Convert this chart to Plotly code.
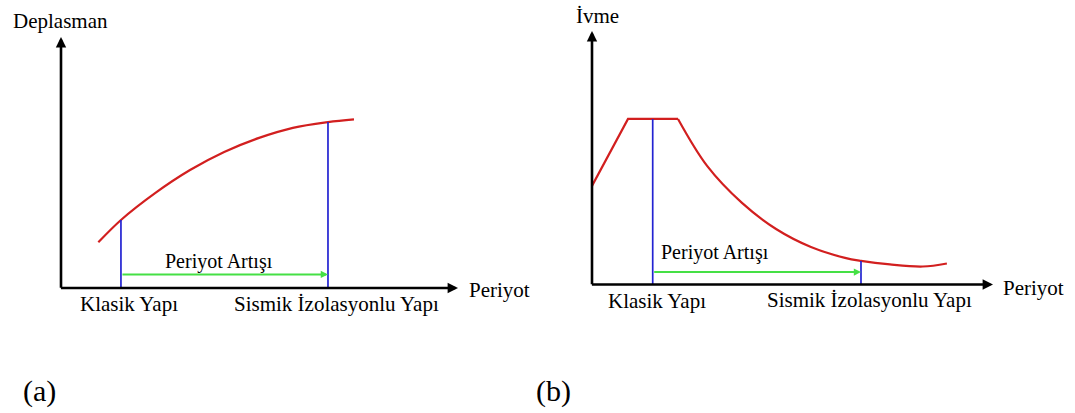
import numpy as np
import plotly.graph_objects as go

# ---------------- data (arbitrary units 0-100) ----------------
# Panel (a): displacement vs period
disp_period = [9.4, 15.1, 23.7, 32.5, 41.1, 49.9, 58.4, 67.25, 73.8]
disp_value = [18.2, 27.1, 37.8, 47.0, 54.2, 59.8, 63.8, 66.1, 67.2]

# Panel (b): acceleration vs period (ramp + plateau, then decay)
acc_ramp_period = [0.0, 8.98, 21.45]
acc_ramp_value = [38.9, 65.3, 65.3]
acc_decay_period = [21.45, 28.7, 37.4, 45.9, 54.6, 63.1, 67.1, 74.3, 82.5, 88.5]
acc_decay_value = [65.3, 46.8, 32.2, 21.9, 14.8, 10.5, 9.3, 7.9, 7.1, 8.3]

# structure periods (classic / isolated) for each panel
periods_a = [15.1, 67.25]
periods_b = [15.14, 67.08]
arrow_level_a = 5.4
arrow_level_b = 4.9

structure_labels = ["Klasik Yapı", "Sismik İzolasyonlu Yapı"]
y_titles = ["Deplasman", "İvme"]
x_title = "Periyot"
shift_label = "Periyot Artışı"
panel_labels = ["(a)", "(b)"]

# ---------------- styling ----------------
W, H = 1075, 413
RED = "#d21f1f"
BLUE = "#2323d2"
GREEN = "#45e045"
FONT = "Liberation Serif"


def px(x):
    return x / W


def py(y):
    return 1 - y / H


fig = go.Figure()

# red curves
fig.add_trace(go.Scatter(x=disp_period, y=disp_value, mode="lines", line=dict(color=RED, width=2.2, shape="spline"),
                         xaxis="x", yaxis="y", hoverinfo="skip"))
fig.add_trace(go.Scatter(x=acc_ramp_period, y=acc_ramp_value, mode="lines", line=dict(color=RED, width=2.2),
                         xaxis="x2", yaxis="y2", hoverinfo="skip"))
fig.add_trace(go.Scatter(x=acc_decay_period, y=acc_decay_value, mode="lines",
                         line=dict(color=RED, width=2.2, shape="spline"),
                         xaxis="x2", yaxis="y2", hoverinfo="skip"))

# blue vertical lines from the axis to the curve
for p in periods_a:
    top = float(np.interp(p, disp_period, disp_value))
    fig.add_trace(go.Scatter(x=[p, p], y=[0, top], mode="lines", line=dict(color=BLUE, width=1.7),
                             xaxis="x", yaxis="y", hoverinfo="skip"))
acc_all_p = acc_ramp_period + acc_decay_period[1:]
acc_all_v = acc_ramp_value + acc_decay_value[1:]
for p in periods_b:
    top = float(np.interp(p, acc_all_p, acc_all_v))
    fig.add_trace(go.Scatter(x=[p, p], y=[0, top], mode="lines", line=dict(color=BLUE, width=1.7),
                             xaxis="x2", yaxis="y2", hoverinfo="skip"))

annotations = []
# axes drawn as arrows
for xa, ya in (("x", "y"), ("x2", "y2")):
    annotations.append(dict(x=100, y=0, ax=-0.4, ay=0, xref=xa, yref=ya, axref=xa, ayref=ya, text="",
                            showarrow=True, arrowhead=2, arrowwidth=2.6, arrowsize=0.8, arrowcolor="black"))
    annotations.append(dict(x=0, y=100, ax=0, ay=-0.5, xref=xa, yref=ya, axref=xa, ayref=ya, text="",
                            showarrow=True, arrowhead=2, arrowwidth=2.6, arrowsize=0.8, arrowcolor="black"))

# green period-shift arrows
for xa, ya, per, lvl in (("x", "y", periods_a, arrow_level_a), ("x2", "y2", periods_b, arrow_level_b)):
    annotations.append(dict(x=per[1], y=lvl, ax=per[0], ay=lvl, xref=xa, yref=ya, axref=xa, ayref=ya, text="",
                            showarrow=True, arrowhead=2, arrowwidth=2.0, arrowsize=0.72, arrowcolor=GREEN))

f21 = dict(family=FONT, size=21, color="black")
f20 = dict(family=FONT, size=20, color="black")


def txt(s, x, y, font, xanchor="center"):
    annotations.append(dict(text=s, x=px(x), y=py(y), xref="paper", yref="paper", showarrow=False,
                            xanchor=xanchor, yanchor="middle", font=font))


# panel (a) texts
txt(y_titles[0], 11, 21, f21, "left")
txt(x_title, 467, 290, f21, "left")
txt(structure_labels[0], 128.5, 304, f21)
txt(structure_labels[1], 336, 304, f21)
txt(shift_label, 218.5, 261, f20)
# panel (b) texts
txt(y_titles[1], 574, 16.5, f21, "left")
txt(x_title, 1001, 288, f21, "left")
txt(structure_labels[0], 657, 301, f21)
txt(structure_labels[1], 869, 300, f21)
txt(shift_label, 714.5, 253, f20)
# panel labels
f30 = dict(family=FONT, size=30, color="black")
txt(panel_labels[0], 21, 391, f30, "left")
txt(panel_labels[1], 534, 391, f30, "left")

hidden = dict(visible=False, showgrid=False, zeroline=False, fixedrange=True)
fig.update_layout(
    width=W, height=H, margin=dict(l=0, r=0, t=0, b=0),
    paper_bgcolor="white", plot_bgcolor="white", showlegend=False,
    font=dict(family=FONT, color="black"),
    xaxis=dict(domain=[px(61), px(458)], range=[0, 100], **hidden),
    yaxis=dict(domain=[py(288), py(37)], range=[0, 100], **hidden),
    xaxis2=dict(domain=[px(592), px(993)], range=[0, 100], anchor="y2", **hidden),
    yaxis2=dict(domain=[py(284.5), py(31)], range=[0, 100], anchor="x2", **hidden),
    annotations=annotations,
)

fig.write_html("out.html", config={"displayModeBar": False},
               post_script="document.body.style.margin='0';document.body.style.overflow='hidden';")
